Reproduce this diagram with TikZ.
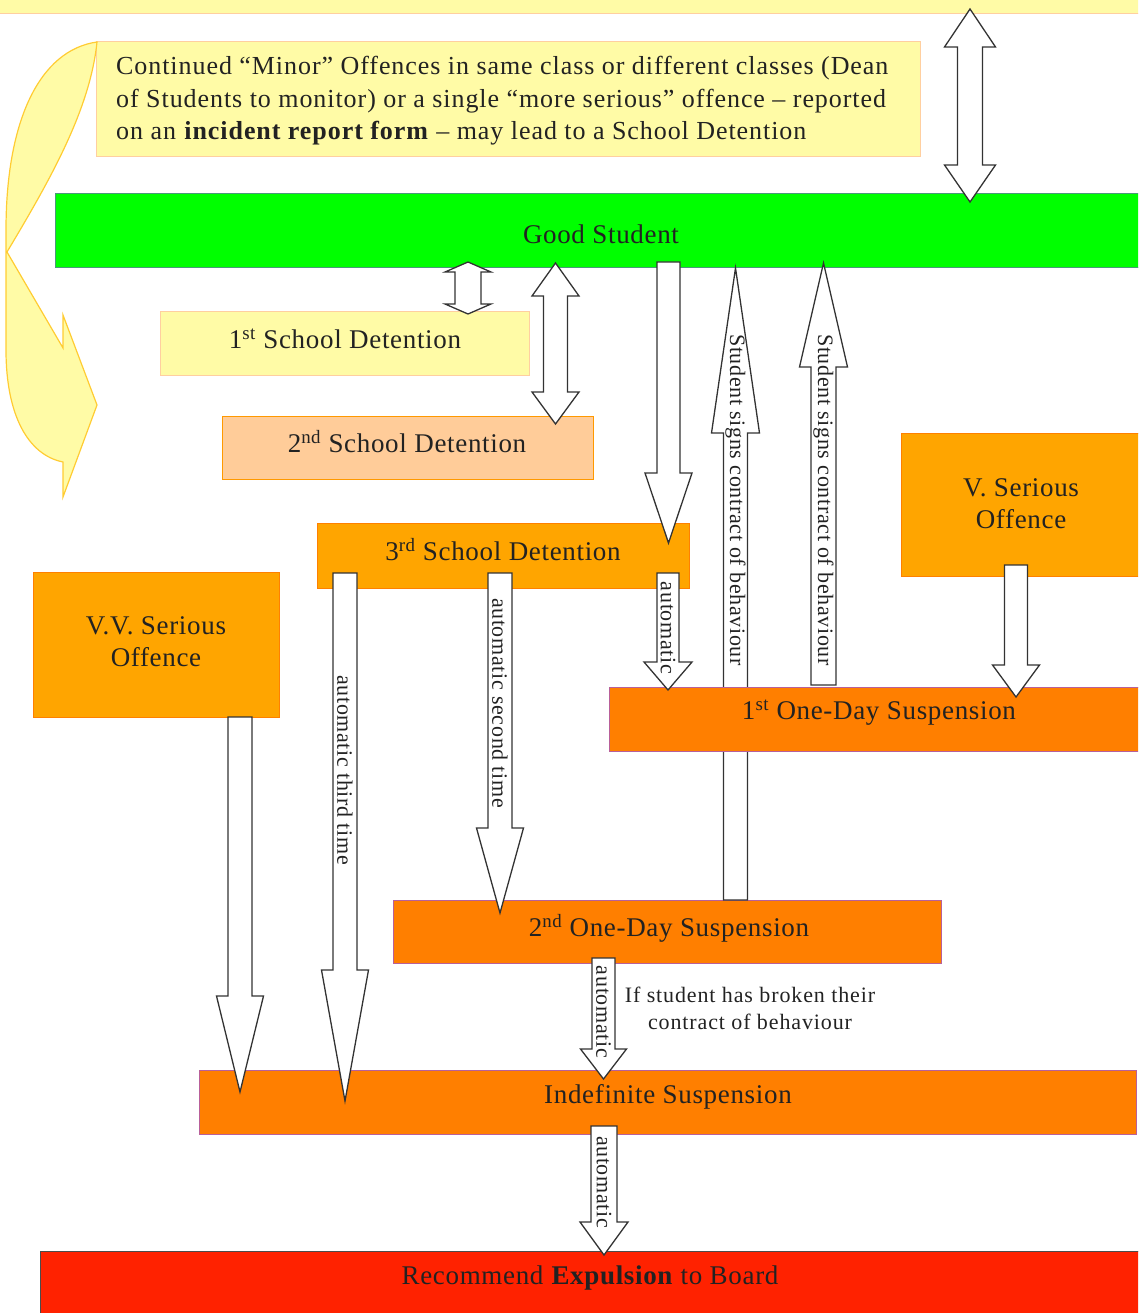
\documentclass[tikz,border=0pt]{standalone}
\usepackage{fontspec}
\setmainfont{Liberation Serif}
\newfontfamily\lsbox[LetterSpace=2.5]{Liberation Serif}
\newfontfamily\lsinstr[LetterSpace=3.6]{Liberation Serif}
\newfontfamily\lsrot[LetterSpace=3]{Liberation Serif}
\newfontfamily\lsnote[LetterSpace=4]{Liberation Serif}
\definecolor{paleyellow}{HTML}{FFFBA6}
\definecolor{peachline}{HTML}{FFCFA0}
\definecolor{peachfill}{HTML}{FFCC99}
\definecolor{orangeline}{HTML}{FF9900}
\definecolor{orangeA}{HTML}{FFA500}
\definecolor{orangeAline}{HTML}{FF8000}
\definecolor{orangeB}{HTML}{FF7F00}
\definecolor{purpline}{HTML}{B8609A}
\definecolor{redX}{HTML}{FF2200}
\definecolor{greenG}{HTML}{00FF00}
\definecolor{greenline}{HTML}{4A9A7A}
\definecolor{goldline}{HTML}{FFCC33}
\definecolor{inkc}{HTML}{222222}
\newcommand{\blockarrow}[6]{% x, tail y, tip y, shaft half width, head half width, head base y
  \draw[blk] ({#1-#4},#2) -- ({#1+#4},#2) -- ({#1+#4},#6) -- ({#1+#5},#6) -- (#1,#3)
     -- ({#1-#5},#6) -- ({#1-#4},#6) -- cycle;}
\newcommand{\dblarrow}[7]{% x, tip1, base1, base2, tip2, shaft half, head half
  \draw[blk] (#1,#2) -- ({#1+#7},#3) -- ({#1+#6},#3) -- ({#1+#6},#4) -- ({#1+#7},#4) -- (#1,#5)
     -- ({#1-#7},#4) -- ({#1-#6},#4) -- ({#1-#6},#3) -- ({#1-#7},#3) -- cycle;}
\tikzset{
  box/.style={rectangle, inner sep=0pt, line width=1pt},
  ylw/.style={box, fill=paleyellow, draw=peachline},
  peachbox/.style={box, fill=peachfill, draw=orangeline},
  orgbox/.style={box, fill=orangeA, draw=orangeAline},
  suspbox/.style={box, fill=orangeB, draw=purpline},
  blk/.style={draw=black!80, fill=white, line width=1.3pt, line join=miter},
  lbl/.style={font=\lsbox\fontsize{27}{32}\selectfont, text=inkc, inner sep=0pt, align=center},
  rlbl/.style={font=\lsrot\fontsize{22}{26}\selectfont, text=inkc, inner sep=0pt, rotate=-90},
}
\begin{document}
\begin{tikzpicture}[x=1pt,y=-1pt]
\useasboundingbox (0,0) rectangle (1138,1313);
\clip (0,0) rectangle (1138,1313);
% top bar and instruction box
\node[ylw, minimum width=1142pt, minimum height=19pt] (topbar) at (569,4.5) {};
\node[ylw, minimum width=824pt, minimum height=115pt] (instr) at (508,99.5) {};
\node[font=\lsinstr\fontsize{26}{32.5}\selectfont, text=inkc, inner sep=0pt, align=left, anchor=west] (instrT) at (116,101)
 {Continued “Minor” Offences in same class or different classes (Dean\\
  of Students to monitor) or a single “more serious” offence – reported\\
  on an \textbf{incident report form} – may lead to a School Detention};
% curved arrow on the left
\draw[fill=paleyellow, draw=goldline, line width=1.2pt, line join=miter]
  (97,42) .. controls (40,50) and (6,120) .. (6,230) -- (6,350)
  .. controls (6,415) and (28,455) .. (63,462) -- (63,497) -- (97,405) -- (63,315) -- (63,348)
  -- (7,252) .. controls (50,180) and (90,110) .. (97,42) -- cycle;
% boxes
\node[box, fill=greenG, draw=greenline, minimum width=1085pt, minimum height=74pt] (good) at (597.5,231) {};
\node[ylw, minimum width=369pt, minimum height=64pt] (sd1) at (344.5,343) {};
\node[peachbox, minimum width=371pt, minimum height=63pt] (sd2) at (407.5,447.5) {};
\node[orgbox, minimum width=372pt, minimum height=65pt] (sd3) at (503,555.5) {};
\node[orgbox, minimum width=239pt, minimum height=143pt] (vs) at (1020.5,504.5) {};
\node[orgbox, minimum width=246pt, minimum height=145pt] (vvs) at (156,644.5) {};
\node[suspbox, minimum width=548pt, minimum height=63pt] (susp2) at (667,931.5) {};
% long contract arrow (behind 1st suspension)
\blockarrow{735.5}{900}{268}{12}{24}{433}
\node[suspbox, minimum width=531pt, minimum height=64pt] (susp1) at (874.5,719) {};
\node[suspbox, minimum width=937pt, minimum height=64pt] (indef) at (667.5,1102) {};
\node[box, fill=redX, draw=black!70, minimum width=1100pt, minimum height=69pt] (expel) at (590,1285.5) {};
% box labels
\node[lbl] (goodT) at (601,234) {Good Student};
\node[lbl] (sd1T) at (345,339) {1\textsuperscript{st} School Detention};
\node[lbl] (sd2T) at (407,442) {2\textsuperscript{nd} School Detention};
\node[lbl] (sd3T) at (503,550) {3\textsuperscript{rd} School Detention};
\node[lbl] (vsT) at (1021,504) {V. Serious\\Offence};
\node[lbl] (vvsT) at (156,642) {V.V. Serious\\Offence};
\node[lbl] (susp1T) at (879,713) {1\textsuperscript{st} One-Day Suspension};
\node[lbl] (susp2T) at (669,928) {2\textsuperscript{nd} One-Day Suspension};
\node[lbl] (indefT) at (668,1097) {Indefinite Suspension};
\node[lbl] (expelT) at (590,1278) {Recommend \textbf{Expulsion} to Board};
\node[lbl, font=\lsnote\fontsize{22}{27}\selectfont] (noteT) at (750,1008) {If student has broken their\\contract of behaviour};
% block arrows
\dblarrow{970}{9}{47}{165}{202}{12.5}{25.5}
\dblarrow{468}{262}{272}{304}{314}{13}{23}
\dblarrow{555.5}{263}{296}{392}{424}{12}{23.5}
\blockarrow{668.5}{262}{543}{11.5}{23.5}{473}
\blockarrow{823.5}{685}{263}{12.5}{24}{367}
\blockarrow{1016}{565}{697}{11.5}{23.5}{665}
\blockarrow{668}{573}{690}{11}{24}{662}
\blockarrow{500}{573}{913}{12}{23.5}{828}
\blockarrow{345}{573}{1101}{12}{23.5}{970}
\blockarrow{240}{717}{1092}{12}{23.5}{996}
\blockarrow{603.5}{958}{1079}{11.5}{23}{1049}
\blockarrow{604}{1126}{1255}{13}{24}{1222}
% arrow labels
\node[rlbl] (c1T) at (735.5,500) {Student signs contract of behaviour};
\node[rlbl] (c2T) at (823.5,500) {Student signs contract of behaviour};
\node[rlbl] (a1T) at (668,628) {automatic};
\node[rlbl] (a2T) at (500,703) {automatic second time};
\node[rlbl] (a3T) at (345,770) {automatic third time};
\node[rlbl] (a4T) at (603.5,1012) {automatic};
\node[rlbl] (a5T) at (604,1182) {automatic};
\end{tikzpicture}
\end{document}
